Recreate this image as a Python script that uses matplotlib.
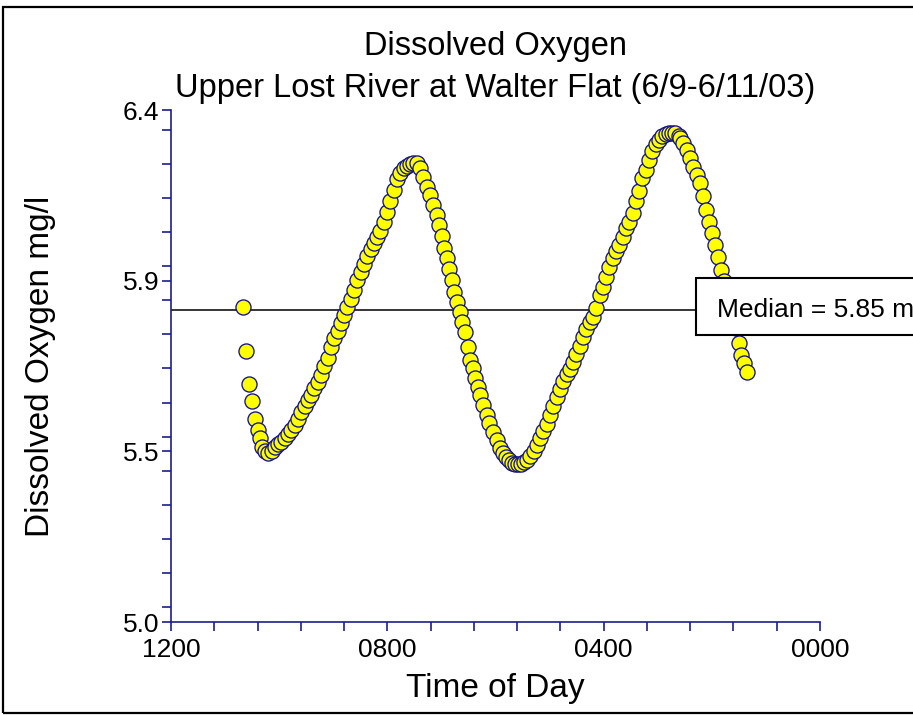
import matplotlib
matplotlib.use("Agg")
import matplotlib.pyplot as plt
from matplotlib.patches import Rectangle
from matplotlib.ticker import FixedLocator, MultipleLocator

plt.rcParams['font.family'] = ['Liberation Sans', 'DejaVu Sans']

# Time of day (hours) of each reading
time_hr = [
    10.663, 10.613, 10.558, 10.508, 10.447, 10.397, 10.355, 10.312, 10.262, 10.201,
    10.140, 10.079, 10.018, 9.957, 9.896, 9.835, 9.774, 9.713, 9.652, 9.591,
    9.530, 9.469, 9.408, 9.347, 9.286, 9.225, 9.164, 9.103, 9.042, 8.981,
    8.920, 8.859, 8.798, 8.737, 8.676, 8.615, 8.554, 8.493, 8.432, 8.371,
    8.310, 8.249, 8.188, 8.127, 8.066, 8.005, 7.944, 7.883, 7.822, 7.761,
    7.700, 7.639, 7.578, 7.517,
    7.457, 7.396, 7.341, 7.272, 7.211, 7.150, 7.087, 7.045, 6.995, 6.947,
    6.902, 6.854, 6.810, 6.762, 6.706, 6.657, 6.614, 6.564, 6.503, 6.472,
    6.422, 6.379, 6.329, 6.287, 6.226, 6.163, 6.115, 6.041, 5.978, 5.917,
    5.861, 5.806, 5.750, 5.695, 5.639, 5.584, 5.529, 5.473,
    5.418, 5.357, 5.296, 5.235, 5.174, 5.113, 5.052, 4.991, 4.930, 4.869,
    4.808, 4.747, 4.686, 4.625, 4.564, 4.503, 4.442, 4.381, 4.320, 4.259,
    4.198, 4.137, 4.076, 4.015, 3.954, 3.893, 3.832, 3.771, 3.710, 3.649,
    3.588, 3.527, 3.466, 3.405, 3.343, 3.282, 3.221, 3.160, 3.099, 3.038,
    2.977, 2.916, 2.855, 2.794, 2.733, 2.672,
    2.611, 2.589, 2.528, 2.465, 2.404, 2.343, 2.280, 2.219, 2.164, 2.108,
    2.053, 1.997, 1.942, 1.886, 1.831, 1.775, 1.720, 1.664, 1.609, 1.553,
    1.498, 1.452, 1.405, 1.355,
]

# Dissolved oxygen (mg/l)
do_mgl = [
    5.862, 5.742, 5.651, 5.604, 5.555, 5.525, 5.503, 5.479, 5.467, 5.463,
    5.468, 5.479, 5.486, 5.493, 5.503, 5.513, 5.525, 5.538, 5.555, 5.573,
    5.591, 5.606, 5.622, 5.640, 5.656, 5.675, 5.699, 5.722, 5.751, 5.777,
    5.797, 5.818, 5.839, 5.860, 5.883, 5.909, 5.934, 5.956, 5.979, 6.002,
    6.020, 6.035, 6.053, 6.070, 6.094, 6.121, 6.151, 6.181, 6.210, 6.229,
    6.241, 6.248, 6.253, 6.254,
    6.255, 6.241, 6.217, 6.190, 6.168, 6.140, 6.113, 6.085, 6.055, 6.024,
    5.994, 5.964, 5.935, 5.903, 5.876, 5.848, 5.821, 5.794, 5.753, 5.716,
    5.694, 5.666, 5.643, 5.621, 5.593, 5.566, 5.543, 5.520, 5.498, 5.476,
    5.462, 5.450, 5.442, 5.436, 5.433, 5.432, 5.433, 5.437,
    5.444, 5.454, 5.468, 5.485, 5.503, 5.521, 5.541, 5.566, 5.590, 5.614,
    5.637, 5.659, 5.678, 5.693, 5.711, 5.733, 5.756, 5.779, 5.801, 5.819,
    5.835, 5.859, 5.893, 5.916, 5.942, 5.972, 5.995, 6.014, 6.032, 6.054,
    6.076, 6.095, 6.117, 6.151, 6.178, 6.214, 6.237, 6.263, 6.287, 6.306,
    6.319, 6.329, 6.334, 6.337, 6.338, 6.337,
    6.330, 6.323, 6.309, 6.291, 6.268, 6.245, 6.222, 6.200, 6.166, 6.127,
    6.094, 6.064, 6.031, 5.998, 5.962, 5.932, 5.902, 5.869, 5.837, 5.804,
    5.763, 5.730, 5.707, 5.684,
]

median_do = 5.853
median_label = "Median = 5.85 mg/l"

x_ticks = [12, 8, 4, 0]
x_ticklabels = ["1200", "0800", "0400", "0000"]
y_min, y_max = 5.0, 6.4
y_ticks = [5.0, 5.0 + 1.4 / 3, 5.0 + 2.8 / 3, 6.4]
y_ticklabels = ["5.0", "5.5", "5.9", "6.4"]

title1 = "Dissolved Oxygen"
title2 = "Upper Lost River at Walter Flat (6/9-6/11/03)"
xlabel = "Time of Day"
ylabel = "Dissolved Oxygen mg/l"

W, H = 913, 715
fig = plt.figure(figsize=(W / 100, H / 100), dpi=100)
fig.patch.set_facecolor("white")

# outer frame
fig.add_artist(Rectangle((3 / W, 2 / H), 1.0, (H - 9) / H, transform=fig.transFigure,
                         fill=False, edgecolor="black", linewidth=1.6))

ax = fig.add_axes([171 / W, (H - 622) / H, 649 / W, 512 / H])
axis_col = "#1c1c8c"

ax.set_xlim(12, 0)
ax.set_ylim(y_min, y_max)

for s in ["top", "right"]:
    ax.spines[s].set_visible(False)
for s in ["left", "bottom"]:
    ax.spines[s].set_color(axis_col)
    ax.spines[s].set_linewidth(1.2)

ax.xaxis.set_major_locator(FixedLocator(x_ticks))
ax.set_xticklabels(x_ticklabels)
ax.xaxis.set_minor_locator(MultipleLocator(0.8))
ax.yaxis.set_major_locator(FixedLocator(y_ticks))
ax.set_yticklabels(y_ticklabels)
ax.yaxis.set_minor_locator(MultipleLocator(1.4 / 15))

ax.tick_params(axis="both", which="both", direction="out", length=6.3,
               width=1.2, color=axis_col, labelsize=19, labelcolor="black")
ax.tick_params(axis="x", which="major", pad=5)
ax.tick_params(axis="y", which="major", pad=2)

# median line
ax.axhline(median_do, color="black", linewidth=1.1, zorder=2)

ax.scatter(time_hr, do_mgl, s=118, facecolor="#FFFF00", edgecolor="#10108a",
           linewidth=0.95, zorder=3, clip_on=False)

# median label box
box_left_x = 2.293
ax.add_patch(Rectangle((box_left_x, 5.785), -10, 0.156, facecolor="white",
                       edgecolor="black", linewidth=1.5, zorder=5, clip_on=False))
ax.text(box_left_x - 0.39, median_do, median_label, fontsize=19,
        va="center", ha="left", zorder=6, clip_on=False)

cx = (171 + 820) / 2 / W
fig.text(cx, 1 - 47 / H, title1, ha="center", va="center", fontsize=23.5)
fig.text(cx, 1 - 88 / H, title2, ha="center", va="center", fontsize=23.5)
fig.text(cx, 1 - 688 / H, xlabel, ha="center", va="center", fontsize=24)
fig.text(40 / W, 1 - 366 / H, ylabel, ha="center", va="center", fontsize=24,
         rotation=90)

fig.savefig("out.png", dpi=100, facecolor="white")
